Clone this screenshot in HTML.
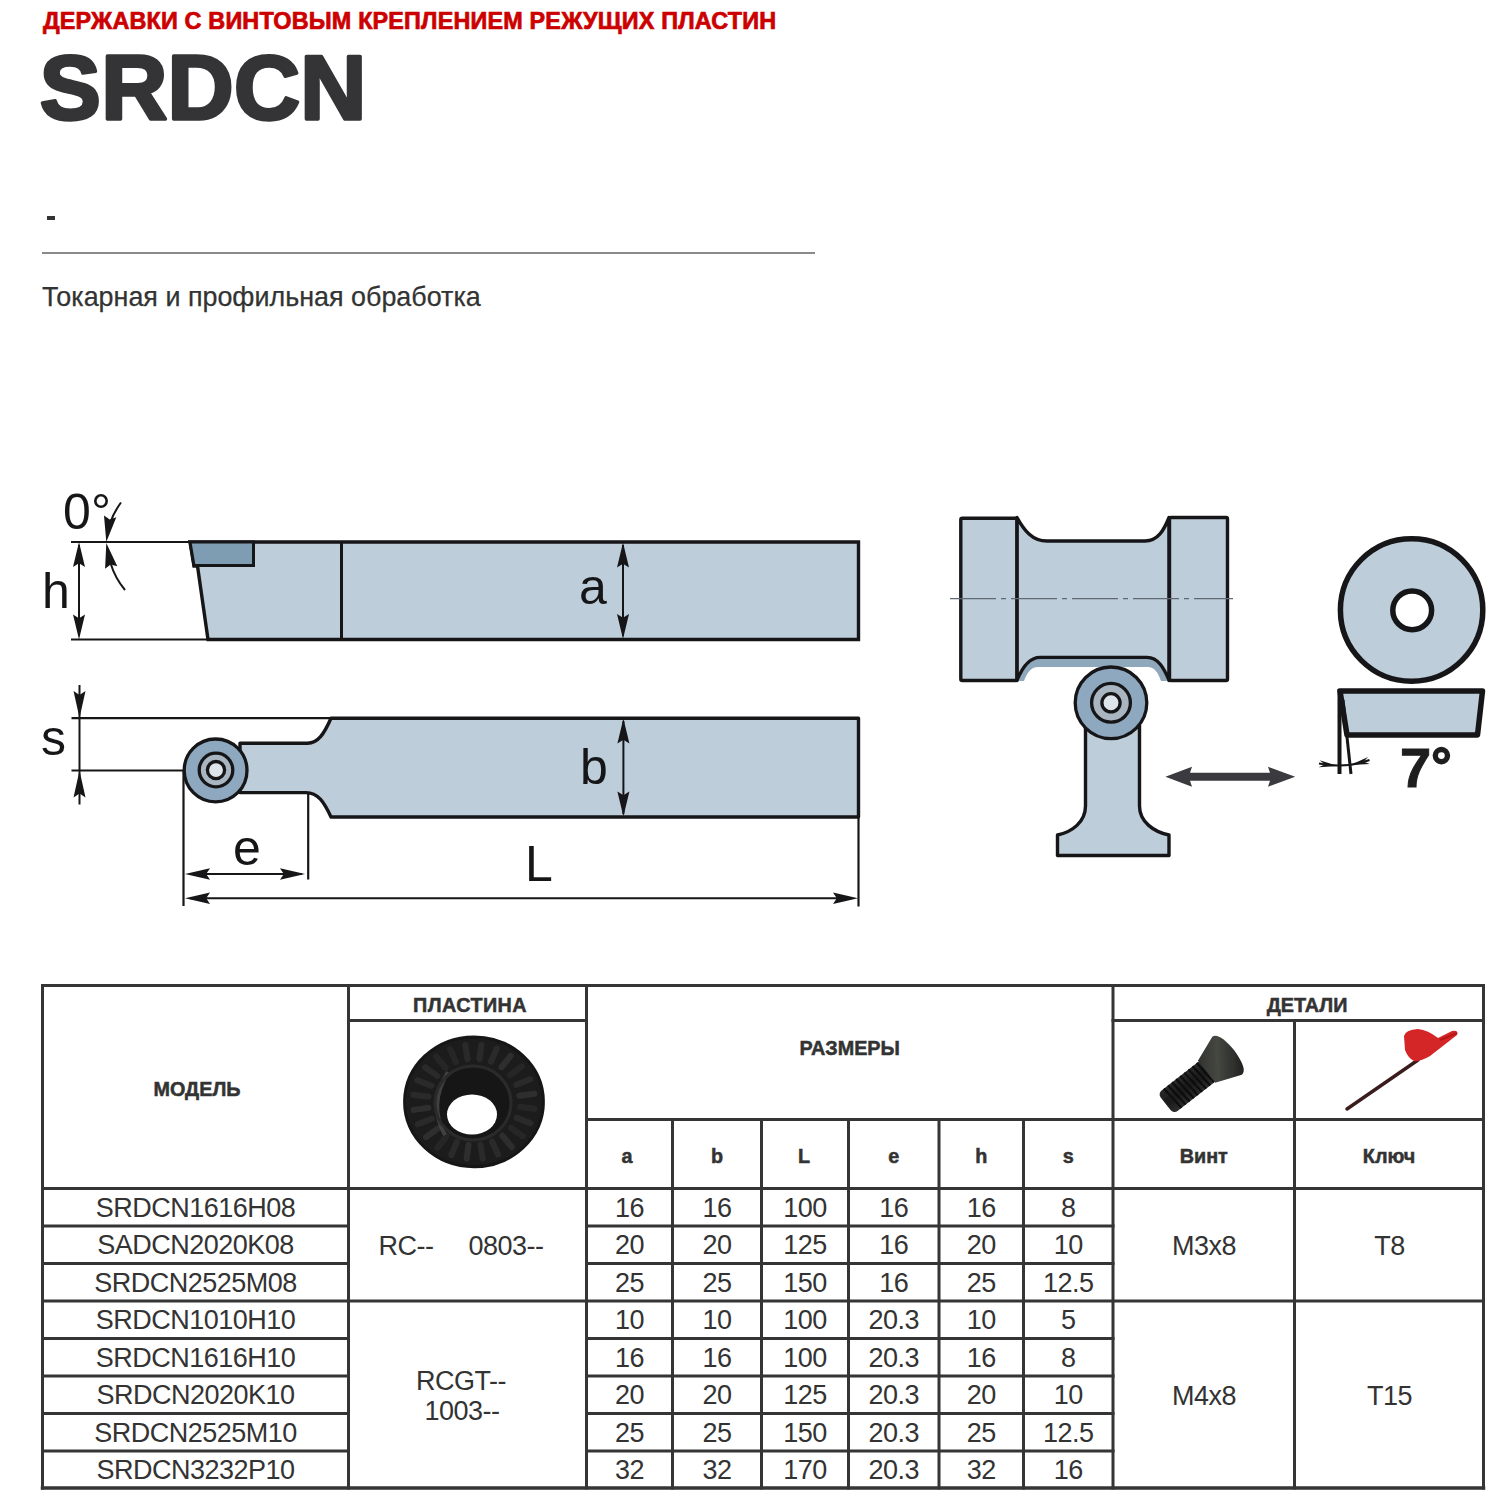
<!DOCTYPE html>
<html><head><meta charset="utf-8">
<style>
html,body{margin:0;padding:0;background:#fff;width:1500px;height:1500px;overflow:hidden}
svg{display:block}
text{font-family:"Liberation Sans",sans-serif}
</style></head><body>
<svg width="1500" height="1500" viewBox="0 0 1500 1500">
<text x="43" y="28.5" font-size="23.4" font-weight="bold" letter-spacing="0.17" fill="#cc0000" stroke="#cc0000" stroke-width="0.7">ДЕРЖАВКИ С ВИНТОВЫМ КРЕПЛЕНИЕМ РЕЖУЩИХ ПЛАСТИН</text>
<text x="39.8" y="119.3" font-size="91.5" font-weight="bold" letter-spacing="0.3" fill="#343436" stroke="#343436" stroke-width="3.4" stroke-linejoin="round">SRDCN</text>
<rect x="47" y="216" width="8" height="4" fill="#333"/>
<rect x="42" y="252" width="773" height="2" fill="#8a8a8a"/>
<text x="42" y="305.5" font-size="26.9" fill="#333" stroke="#333" stroke-width="0.25">Токарная и профильная обработка</text>
<g stroke-linecap="square">
<line x1="42.5" y1="985.5" x2="1483.5" y2="985.5" stroke="#353535" stroke-width="3"/>
<line x1="42.5" y1="1488" x2="1483.5" y2="1488" stroke="#353535" stroke-width="3.5"/>
<line x1="42.5" y1="985.5" x2="42.5" y2="1488" stroke="#353535" stroke-width="3"/>
<line x1="1483.5" y1="985.5" x2="1483.5" y2="1488" stroke="#353535" stroke-width="3"/>
<line x1="348.5" y1="985.5" x2="348.5" y2="1488" stroke="#353535" stroke-width="3"/>
<line x1="586.5" y1="985.5" x2="586.5" y2="1488" stroke="#353535" stroke-width="3"/>
<line x1="1113" y1="985.5" x2="1113" y2="1488" stroke="#353535" stroke-width="3"/>
<line x1="348.5" y1="1020.5" x2="586.5" y2="1020.5" stroke="#353535" stroke-width="3"/>
<line x1="1113" y1="1020.5" x2="1483.5" y2="1020.5" stroke="#353535" stroke-width="3"/>
<line x1="586.5" y1="1119.5" x2="1483.5" y2="1119.5" stroke="#353535" stroke-width="3"/>
<line x1="672.5" y1="1119.5" x2="672.5" y2="1488" stroke="#353535" stroke-width="3"/>
<line x1="761.5" y1="1119.5" x2="761.5" y2="1488" stroke="#353535" stroke-width="3"/>
<line x1="848.5" y1="1119.5" x2="848.5" y2="1488" stroke="#353535" stroke-width="3"/>
<line x1="939" y1="1119.5" x2="939" y2="1488" stroke="#353535" stroke-width="3"/>
<line x1="1023.5" y1="1119.5" x2="1023.5" y2="1488" stroke="#353535" stroke-width="3"/>
<line x1="1294.5" y1="1020.5" x2="1294.5" y2="1488" stroke="#353535" stroke-width="3"/>
<line x1="42.5" y1="1188.5" x2="1483.5" y2="1188.5" stroke="#353535" stroke-width="3"/>
<line x1="42.5" y1="1226" x2="348.5" y2="1226" stroke="#353535" stroke-width="3"/>
<line x1="586.5" y1="1226" x2="1113" y2="1226" stroke="#353535" stroke-width="3"/>
<line x1="42.5" y1="1263.5" x2="348.5" y2="1263.5" stroke="#353535" stroke-width="3"/>
<line x1="586.5" y1="1263.5" x2="1113" y2="1263.5" stroke="#353535" stroke-width="3"/>
<line x1="42.5" y1="1301" x2="1483.5" y2="1301" stroke="#353535" stroke-width="3"/>
<line x1="42.5" y1="1338.5" x2="348.5" y2="1338.5" stroke="#353535" stroke-width="3"/>
<line x1="586.5" y1="1338.5" x2="1113" y2="1338.5" stroke="#353535" stroke-width="3"/>
<line x1="42.5" y1="1376" x2="348.5" y2="1376" stroke="#353535" stroke-width="3"/>
<line x1="586.5" y1="1376" x2="1113" y2="1376" stroke="#353535" stroke-width="3"/>
<line x1="42.5" y1="1413.5" x2="348.5" y2="1413.5" stroke="#353535" stroke-width="3"/>
<line x1="586.5" y1="1413.5" x2="1113" y2="1413.5" stroke="#353535" stroke-width="3"/>
<line x1="42.5" y1="1451" x2="348.5" y2="1451" stroke="#353535" stroke-width="3"/>
<line x1="586.5" y1="1451" x2="1113" y2="1451" stroke="#353535" stroke-width="3"/>
</g>
<text x="197.0" y="1096" font-size="19.8" font-weight="bold" stroke="#333333" stroke-width="0.5" fill="#333333" text-anchor="middle">МОДЕЛЬ</text>
<text x="470.0" y="1012" font-size="19.8" font-weight="bold" stroke="#333333" stroke-width="0.5" fill="#333333" text-anchor="middle" letter-spacing="0.4">ПЛАСТИНА</text>
<text x="849.75" y="1055" font-size="19.8" font-weight="bold" stroke="#333333" stroke-width="0.5" fill="#333333" text-anchor="middle">РАЗМЕРЫ</text>
<text x="1307" y="1012" font-size="19.8" font-weight="bold" stroke="#333333" stroke-width="0.5" fill="#333333" text-anchor="middle">ДЕТАЛИ</text>
<text x="627.0" y="1163" font-size="19.8" font-weight="bold" stroke="#333333" stroke-width="0.5" fill="#333333" text-anchor="middle">a</text>
<text x="717.0" y="1163" font-size="19.8" font-weight="bold" stroke="#333333" stroke-width="0.5" fill="#333333" text-anchor="middle">b</text>
<text x="804.0" y="1163" font-size="19.8" font-weight="bold" stroke="#333333" stroke-width="0.5" fill="#333333" text-anchor="middle">L</text>
<text x="893.75" y="1163" font-size="19.8" font-weight="bold" stroke="#333333" stroke-width="0.5" fill="#333333" text-anchor="middle">e</text>
<text x="981.25" y="1163" font-size="19.8" font-weight="bold" stroke="#333333" stroke-width="0.5" fill="#333333" text-anchor="middle">h</text>
<text x="1068.25" y="1163" font-size="19.8" font-weight="bold" stroke="#333333" stroke-width="0.5" fill="#333333" text-anchor="middle">s</text>
<text x="1203.75" y="1162.5" font-size="19.8" font-weight="bold" stroke="#333333" stroke-width="0.5" fill="#333333" text-anchor="middle">Винт</text>
<text x="1389.0" y="1162.5" font-size="19.8" font-weight="bold" stroke="#333333" stroke-width="0.5" fill="#333333" text-anchor="middle">Ключ</text>
<text x="195.5" y="1216.85" font-size="27" letter-spacing="-0.5" fill="#333333" text-anchor="middle">SRDCN1616H08</text>
<text x="629.5" y="1216.85" font-size="27" letter-spacing="-0.5" fill="#333333" text-anchor="middle">16</text>
<text x="717.0" y="1216.85" font-size="27" letter-spacing="-0.5" fill="#333333" text-anchor="middle">16</text>
<text x="805.0" y="1216.85" font-size="27" letter-spacing="-0.5" fill="#333333" text-anchor="middle">100</text>
<text x="893.75" y="1216.85" font-size="27" letter-spacing="-0.5" fill="#333333" text-anchor="middle">16</text>
<text x="981.25" y="1216.85" font-size="27" letter-spacing="-0.5" fill="#333333" text-anchor="middle">16</text>
<text x="1068.25" y="1216.85" font-size="27" letter-spacing="-0.5" fill="#333333" text-anchor="middle">8</text>
<text x="195.5" y="1254.35" font-size="27" letter-spacing="-0.5" fill="#333333" text-anchor="middle">SADCN2020K08</text>
<text x="629.5" y="1254.35" font-size="27" letter-spacing="-0.5" fill="#333333" text-anchor="middle">20</text>
<text x="717.0" y="1254.35" font-size="27" letter-spacing="-0.5" fill="#333333" text-anchor="middle">20</text>
<text x="805.0" y="1254.35" font-size="27" letter-spacing="-0.5" fill="#333333" text-anchor="middle">125</text>
<text x="893.75" y="1254.35" font-size="27" letter-spacing="-0.5" fill="#333333" text-anchor="middle">16</text>
<text x="981.25" y="1254.35" font-size="27" letter-spacing="-0.5" fill="#333333" text-anchor="middle">20</text>
<text x="1068.25" y="1254.35" font-size="27" letter-spacing="-0.5" fill="#333333" text-anchor="middle">10</text>
<text x="195.5" y="1291.85" font-size="27" letter-spacing="-0.5" fill="#333333" text-anchor="middle">SRDCN2525M08</text>
<text x="629.5" y="1291.85" font-size="27" letter-spacing="-0.5" fill="#333333" text-anchor="middle">25</text>
<text x="717.0" y="1291.85" font-size="27" letter-spacing="-0.5" fill="#333333" text-anchor="middle">25</text>
<text x="805.0" y="1291.85" font-size="27" letter-spacing="-0.5" fill="#333333" text-anchor="middle">150</text>
<text x="893.75" y="1291.85" font-size="27" letter-spacing="-0.5" fill="#333333" text-anchor="middle">16</text>
<text x="981.25" y="1291.85" font-size="27" letter-spacing="-0.5" fill="#333333" text-anchor="middle">25</text>
<text x="1068.25" y="1291.85" font-size="27" letter-spacing="-0.5" fill="#333333" text-anchor="middle">12.5</text>
<text x="195.5" y="1329.35" font-size="27" letter-spacing="-0.5" fill="#333333" text-anchor="middle">SRDCN1010H10</text>
<text x="629.5" y="1329.35" font-size="27" letter-spacing="-0.5" fill="#333333" text-anchor="middle">10</text>
<text x="717.0" y="1329.35" font-size="27" letter-spacing="-0.5" fill="#333333" text-anchor="middle">10</text>
<text x="805.0" y="1329.35" font-size="27" letter-spacing="-0.5" fill="#333333" text-anchor="middle">100</text>
<text x="893.75" y="1329.35" font-size="27" letter-spacing="-0.5" fill="#333333" text-anchor="middle">20.3</text>
<text x="981.25" y="1329.35" font-size="27" letter-spacing="-0.5" fill="#333333" text-anchor="middle">10</text>
<text x="1068.25" y="1329.35" font-size="27" letter-spacing="-0.5" fill="#333333" text-anchor="middle">5</text>
<text x="195.5" y="1366.85" font-size="27" letter-spacing="-0.5" fill="#333333" text-anchor="middle">SRDCN1616H10</text>
<text x="629.5" y="1366.85" font-size="27" letter-spacing="-0.5" fill="#333333" text-anchor="middle">16</text>
<text x="717.0" y="1366.85" font-size="27" letter-spacing="-0.5" fill="#333333" text-anchor="middle">16</text>
<text x="805.0" y="1366.85" font-size="27" letter-spacing="-0.5" fill="#333333" text-anchor="middle">100</text>
<text x="893.75" y="1366.85" font-size="27" letter-spacing="-0.5" fill="#333333" text-anchor="middle">20.3</text>
<text x="981.25" y="1366.85" font-size="27" letter-spacing="-0.5" fill="#333333" text-anchor="middle">16</text>
<text x="1068.25" y="1366.85" font-size="27" letter-spacing="-0.5" fill="#333333" text-anchor="middle">8</text>
<text x="195.5" y="1404.35" font-size="27" letter-spacing="-0.5" fill="#333333" text-anchor="middle">SRDCN2020K10</text>
<text x="629.5" y="1404.35" font-size="27" letter-spacing="-0.5" fill="#333333" text-anchor="middle">20</text>
<text x="717.0" y="1404.35" font-size="27" letter-spacing="-0.5" fill="#333333" text-anchor="middle">20</text>
<text x="805.0" y="1404.35" font-size="27" letter-spacing="-0.5" fill="#333333" text-anchor="middle">125</text>
<text x="893.75" y="1404.35" font-size="27" letter-spacing="-0.5" fill="#333333" text-anchor="middle">20.3</text>
<text x="981.25" y="1404.35" font-size="27" letter-spacing="-0.5" fill="#333333" text-anchor="middle">20</text>
<text x="1068.25" y="1404.35" font-size="27" letter-spacing="-0.5" fill="#333333" text-anchor="middle">10</text>
<text x="195.5" y="1441.85" font-size="27" letter-spacing="-0.5" fill="#333333" text-anchor="middle">SRDCN2525M10</text>
<text x="629.5" y="1441.85" font-size="27" letter-spacing="-0.5" fill="#333333" text-anchor="middle">25</text>
<text x="717.0" y="1441.85" font-size="27" letter-spacing="-0.5" fill="#333333" text-anchor="middle">25</text>
<text x="805.0" y="1441.85" font-size="27" letter-spacing="-0.5" fill="#333333" text-anchor="middle">150</text>
<text x="893.75" y="1441.85" font-size="27" letter-spacing="-0.5" fill="#333333" text-anchor="middle">20.3</text>
<text x="981.25" y="1441.85" font-size="27" letter-spacing="-0.5" fill="#333333" text-anchor="middle">25</text>
<text x="1068.25" y="1441.85" font-size="27" letter-spacing="-0.5" fill="#333333" text-anchor="middle">12.5</text>
<text x="195.5" y="1479.1" font-size="27" letter-spacing="-0.5" fill="#333333" text-anchor="middle">SRDCN3232P10</text>
<text x="629.5" y="1479.1" font-size="27" letter-spacing="-0.5" fill="#333333" text-anchor="middle">32</text>
<text x="717.0" y="1479.1" font-size="27" letter-spacing="-0.5" fill="#333333" text-anchor="middle">32</text>
<text x="805.0" y="1479.1" font-size="27" letter-spacing="-0.5" fill="#333333" text-anchor="middle">170</text>
<text x="893.75" y="1479.1" font-size="27" letter-spacing="-0.5" fill="#333333" text-anchor="middle">20.3</text>
<text x="981.25" y="1479.1" font-size="27" letter-spacing="-0.5" fill="#333333" text-anchor="middle">32</text>
<text x="1068.25" y="1479.1" font-size="27" letter-spacing="-0.5" fill="#333333" text-anchor="middle">16</text>
<text x="406" y="1255" font-size="27" letter-spacing="-0.5" fill="#333333" text-anchor="middle">RC--</text>
<text x="506" y="1255" font-size="27" letter-spacing="-0.5" fill="#333333" text-anchor="middle">0803--</text>
<text x="461" y="1390" font-size="27" letter-spacing="-0.5" fill="#333333" text-anchor="middle">RCGT--</text>
<text x="462" y="1420" font-size="27" letter-spacing="-0.5" fill="#333333" text-anchor="middle">1003--</text>
<text x="1204" y="1255" font-size="27" letter-spacing="-0.5" fill="#333333" text-anchor="middle">M3x8</text>
<text x="1389.5" y="1255" font-size="27" letter-spacing="-0.5" fill="#333333" text-anchor="middle">T8</text>
<text x="1204" y="1404.5" font-size="27" letter-spacing="-0.5" fill="#333333" text-anchor="middle">M4x8</text>
<text x="1389.5" y="1404.5" font-size="27" letter-spacing="-0.5" fill="#333333" text-anchor="middle">T15</text>
<defs>
<radialGradient id="insG" cx="0.45" cy="0.4" r="0.6">
  <stop offset="0" stop-color="#2a2a2a"/>
  <stop offset="0.7" stop-color="#1e1e1e"/>
  <stop offset="1" stop-color="#121212"/>
</radialGradient>
<linearGradient id="scrHead" x1="0" y1="0" x2="1" y2="1">
  <stop offset="0" stop-color="#2c2c2b"/>
  <stop offset="0.45" stop-color="#454741"/>
  <stop offset="1" stop-color="#1a1a1a"/>
</linearGradient>
<linearGradient id="scrBody" x1="0" y1="0" x2="0" y2="1">
  <stop offset="0" stop-color="#2a2a2a"/>
  <stop offset="0.5" stop-color="#1a1a1a"/>
  <stop offset="1" stop-color="#2c2c2c"/>
</linearGradient>
<filter id="soft" x="-10%" y="-10%" width="120%" height="120%"><feGaussianBlur stdDeviation="0.7"/></filter>
</defs>
<g filter="url(#soft)">
<ellipse cx="474" cy="1101.8" rx="69.4" ry="64.9" fill="#1d1d1d"/>
<line x1="519.7" y1="1107.0" x2="534.6" y2="1108.7" stroke="#333333" stroke-width="6" stroke-linecap="round" opacity="0.5"/>
<line x1="516.7" y1="1117.9" x2="530.6" y2="1123.2" stroke="#3a3a3a" stroke-width="6" stroke-linecap="round" opacity="0.5"/>
<line x1="510.8" y1="1127.7" x2="522.8" y2="1136.2" stroke="#333333" stroke-width="6" stroke-linecap="round" opacity="0.5"/>
<line x1="502.4" y1="1135.8" x2="511.7" y2="1146.9" stroke="#424242" stroke-width="6" stroke-linecap="round" opacity="0.5"/>
<line x1="492.1" y1="1141.6" x2="498.0" y2="1154.5" stroke="#3a3a3a" stroke-width="6" stroke-linecap="round" opacity="0.5"/>
<line x1="480.5" y1="1144.6" x2="482.6" y2="1158.6" stroke="#3a3a3a" stroke-width="6" stroke-linecap="round" opacity="0.5"/>
<line x1="468.5" y1="1144.7" x2="466.7" y2="1158.7" stroke="#424242" stroke-width="6" stroke-linecap="round" opacity="0.5"/>
<line x1="456.9" y1="1141.9" x2="451.3" y2="1155.0" stroke="#3a3a3a" stroke-width="6" stroke-linecap="round" opacity="0.5"/>
<line x1="446.4" y1="1136.4" x2="437.4" y2="1147.7" stroke="#333333" stroke-width="6" stroke-linecap="round" opacity="0.5"/>
<line x1="437.8" y1="1128.5" x2="426.0" y2="1137.2" stroke="#424242" stroke-width="6" stroke-linecap="round" opacity="0.5"/>
<line x1="431.7" y1="1118.8" x2="417.9" y2="1124.3" stroke="#3a3a3a" stroke-width="6" stroke-linecap="round" opacity="0.5"/>
<line x1="428.5" y1="1107.9" x2="413.6" y2="1109.9" stroke="#424242" stroke-width="6" stroke-linecap="round" opacity="0.5"/>
<line x1="428.3" y1="1096.6" x2="413.4" y2="1094.9" stroke="#3a3a3a" stroke-width="6" stroke-linecap="round" opacity="0.5"/>
<line x1="431.3" y1="1085.7" x2="417.4" y2="1080.4" stroke="#3a3a3a" stroke-width="6" stroke-linecap="round" opacity="0.5"/>
<line x1="437.2" y1="1075.9" x2="425.2" y2="1067.4" stroke="#3a3a3a" stroke-width="6" stroke-linecap="round" opacity="0.5"/>
<line x1="445.6" y1="1067.8" x2="436.3" y2="1056.7" stroke="#333333" stroke-width="6" stroke-linecap="round" opacity="0.5"/>
<line x1="455.9" y1="1062.0" x2="450.0" y2="1049.1" stroke="#333333" stroke-width="6" stroke-linecap="round" opacity="0.5"/>
<line x1="467.5" y1="1059.0" x2="465.4" y2="1045.0" stroke="#3a3a3a" stroke-width="6" stroke-linecap="round" opacity="0.5"/>
<line x1="479.5" y1="1058.9" x2="481.3" y2="1044.9" stroke="#3a3a3a" stroke-width="6" stroke-linecap="round" opacity="0.5"/>
<line x1="491.1" y1="1061.7" x2="496.7" y2="1048.6" stroke="#3a3a3a" stroke-width="6" stroke-linecap="round" opacity="0.5"/>
<line x1="501.6" y1="1067.2" x2="510.6" y2="1055.9" stroke="#424242" stroke-width="6" stroke-linecap="round" opacity="0.5"/>
<line x1="510.2" y1="1075.1" x2="522.0" y2="1066.4" stroke="#333333" stroke-width="6" stroke-linecap="round" opacity="0.5"/>
<line x1="516.3" y1="1084.8" x2="530.1" y2="1079.3" stroke="#3a3a3a" stroke-width="6" stroke-linecap="round" opacity="0.5"/>
<line x1="519.5" y1="1095.7" x2="534.4" y2="1093.7" stroke="#424242" stroke-width="6" stroke-linecap="round" opacity="0.5"/>
<ellipse cx="474" cy="1101.8" rx="69.4" ry="64.9" fill="none" stroke="#151515" stroke-width="3"/>
<ellipse cx="473" cy="1103" rx="38" ry="37" fill="#181818"/>
<path d="M445,1135 Q428,1105 448,1072" fill="none" stroke="#4a4a4a" stroke-width="4" opacity="0.8"/>
<ellipse cx="473" cy="1103" rx="38" ry="37" fill="none" stroke="#2c2c2c" stroke-width="3"/>
<ellipse cx="472" cy="1114.5" rx="25" ry="20" fill="#ffffff"/>
</g>
<g filter="url(#soft)">
<g transform="translate(1205,1073) rotate(-38)">
<rect x="-50" y="-13" width="56" height="26" rx="5" fill="url(#scrBody)"/>
<line x1="-42.0" y1="-13" x2="-40.0" y2="13" stroke="#0c0c0c" stroke-width="2"/>
<line x1="-36.8" y1="-13" x2="-34.8" y2="13" stroke="#0c0c0c" stroke-width="2"/>
<line x1="-31.6" y1="-13" x2="-29.6" y2="13" stroke="#0c0c0c" stroke-width="2"/>
<line x1="-26.4" y1="-13" x2="-24.4" y2="13" stroke="#0c0c0c" stroke-width="2"/>
<line x1="-21.2" y1="-13" x2="-19.2" y2="13" stroke="#0c0c0c" stroke-width="2"/>
<line x1="-16.0" y1="-13" x2="-14.0" y2="13" stroke="#0c0c0c" stroke-width="2"/>
<line x1="-10.8" y1="-13" x2="-8.8" y2="13" stroke="#0c0c0c" stroke-width="2"/>
<line x1="-5.6" y1="-13" x2="-3.6" y2="13" stroke="#0c0c0c" stroke-width="2"/>
<line x1="-0.4" y1="-13" x2="1.6" y2="13" stroke="#0c0c0c" stroke-width="2"/>
<path d="M2,-14 L28,-24 Q36,-24 37,0 Q36,24 28,24 L2,14 Z" fill="url(#scrHead)"/>
</g>
</g>
<g filter="url(#soft)">
<path d="M1347,1109 L1418,1060" stroke="#3a1c1e" stroke-width="3.4" stroke-linecap="round"/>
<path d="M1404,1036 Q1405,1030 1418,1029 Q1428,1030 1438,1038 L1452,1031 Q1459,1030 1457,1035 L1430,1056 Q1420,1062 1414,1061 Q1408,1058 1405,1050 Z" fill="#d42525"/>
<path d="M1440,1040 L1457,1033" stroke="#b81818" stroke-width="2"/>
</g>
<line x1="71" y1="542" x2="190" y2="542" stroke="#161618" stroke-width="2.2"/>
<line x1="71" y1="639.5" x2="208" y2="639.5" stroke="#161618" stroke-width="2.2"/>
<polygon points="190,542 858.5,542 858.5,639.5 208,639.5 197.5,566 194,566" fill="#bdcdd9" stroke="#161618" stroke-width="3.4" stroke-linejoin="miter"/>
<polygon points="190,542 253.5,542 253.5,565.5 194,565.5" fill="#7e9db3" stroke="#161618" stroke-width="3"/>
<line x1="341.5" y1="542" x2="341.5" y2="639.5" stroke="#161618" stroke-width="3"/>
<line x1="79" y1="545" x2="79" y2="636" stroke="#161618" stroke-width="2"/>
<polygon points="79.0,542.0 85.0,567.0 79.0,563.2 73.0,567.0" fill="#161618"/>
<polygon points="79.0,639.5 73.0,614.5 79.0,618.2 85.0,614.5" fill="#161618"/>
<text x="42" y="607.8" font-size="50" fill="#161618" text-anchor="start">h</text>
<text x="63" y="528.6" font-size="50" fill="#161618" text-anchor="start">0</text>
<text x="91" y="528.6" font-size="50" fill="#161618" text-anchor="start">°</text>
<path d="M121,502.5 Q114,512 110.5,522" fill="none" stroke="#161618" stroke-width="2"/>
<polygon points="106.3,542.0 104.0,515.4 109.7,519.4 116.3,517.2" fill="#161618"/>
<path d="M110.5,563 Q115,578 125,590" fill="none" stroke="#161618" stroke-width="2"/>
<polygon points="106.3,543.0 117.3,566.3 110.6,564.6 105.1,568.7" fill="#161618"/>
<line x1="623" y1="545" x2="623" y2="636" stroke="#161618" stroke-width="2"/>
<polygon points="623.0,542.5 629.0,567.5 623.0,563.8 617.0,567.5" fill="#161618"/>
<polygon points="623.0,639.0 617.0,614.0 623.0,617.8 629.0,614.0" fill="#161618"/>
<text x="579" y="604.3" font-size="50" fill="#161618" text-anchor="start">a</text>
<line x1="71.5" y1="718.2" x2="331" y2="718.2" stroke="#161618" stroke-width="2.2"/>
<line x1="71.5" y1="770.5" x2="184" y2="770.5" stroke="#161618" stroke-width="2.2"/>
<line x1="79.5" y1="685" x2="79.5" y2="804.5" stroke="#161618" stroke-width="2"/>
<polygon points="79.5,718.0 73.5,691.0 79.5,695.0 85.5,691.0" fill="#161618"/>
<polygon points="79.5,770.5 85.5,797.5 79.5,793.5 73.5,797.5" fill="#161618"/>
<text x="41" y="755.3" font-size="50" fill="#161618" text-anchor="start">s</text>
<path d="M240,743.2 L307.5,743.2 C318,743.2 324,734 331,718.2 L858.5,718.2 L858.5,817 L331,817 C324,802 318,792.6 306,792.6 L240,792.6 Z" fill="#bdcdd9" stroke="#161618" stroke-width="3.4" stroke-linejoin="round"/>
<circle cx="215.6" cy="770.4" r="31.4" fill="#8ea8bf" stroke="#161618" stroke-width="3.3"/>
<circle cx="216" cy="770" r="16.8" fill="#a9b6c1" stroke="#161618" stroke-width="3.3"/>
<circle cx="216" cy="770.1" r="8.6" fill="#dde4ea" stroke="#161618" stroke-width="3.3"/>
<line x1="623.4" y1="721" x2="623.4" y2="814" stroke="#161618" stroke-width="2"/>
<polygon points="623.4,718.5 629.4,743.5 623.4,739.8 617.4,743.5" fill="#161618"/>
<polygon points="623.4,816.5 617.4,791.5 623.4,795.2 629.4,791.5" fill="#161618"/>
<text x="580" y="783.6" font-size="50" fill="#161618" text-anchor="start">b</text>
<line x1="183.5" y1="770.5" x2="183.5" y2="906" stroke="#161618" stroke-width="2.2"/>
<line x1="308.2" y1="792.6" x2="308.2" y2="879.5" stroke="#161618" stroke-width="2.2"/>
<line x1="858.5" y1="817" x2="858.5" y2="906.5" stroke="#161618" stroke-width="2.2"/>
<line x1="190" y1="874" x2="302" y2="874" stroke="#161618" stroke-width="2"/>
<polygon points="185.0,874.0 210.0,868.3 206.2,874.0 210.0,879.7" fill="#161618"/>
<polygon points="305.0,874.0 280.0,879.7 283.8,874.0 280.0,868.3" fill="#161618"/>
<text x="233" y="864.7" font-size="50" fill="#161618" text-anchor="start">e</text>
<line x1="190" y1="898.2" x2="852" y2="898.2" stroke="#161618" stroke-width="2"/>
<polygon points="185.0,898.2 210.0,892.5 206.2,898.2 210.0,903.9" fill="#161618"/>
<polygon points="858.0,898.2 833.0,903.9 836.8,898.2 833.0,892.5" fill="#161618"/>
<text x="525" y="881.1" font-size="50" fill="#161618" text-anchor="start">L</text>
<path d="M1019,681 C1022,668 1029,657.4 1040,657.4 L1147,657.4 C1158,657.4 1164,668 1167,681 L1161,681 C1158,672 1154,667 1148,667 L1038,667 C1031,667 1027,673 1024,681 Z" fill="#8fa8bc"/>
<path d="M1017,517.5 C1024,530 1032,541 1047,541 L1145,541 C1158,541 1164,530 1169,517.5 L1169,680.5 C1164,668 1158,657.4 1147,657.4 L1040,657.4 C1029,657.4 1022,668 1017,680.5 Z" fill="#bdcdd9" stroke="#161618" stroke-width="3.4" stroke-linejoin="round"/>
<rect x="960.8" y="518.2" width="56" height="162.3" fill="#bdcdd9" stroke="#161618" stroke-width="3.4" rx="1.5"/>
<rect x="1169.5" y="517.5" width="58" height="163" fill="#bdcdd9" stroke="#161618" stroke-width="3.4" rx="1.5"/>
<line x1="950" y1="598.7" x2="1233" y2="598.7" stroke="#5f6a74" stroke-width="1.3" stroke-dasharray="46 5 5 5"/>
<path d="M1085.5,725 L1085.5,806 C1085.5,822 1072,832 1057.5,835 L1057.5,855.5 L1169,855.5 L1169,835 C1154,832 1139.5,822 1139.5,806 L1139.5,725 Z" fill="#bdcdd9" stroke="#161618" stroke-width="3.4" stroke-linejoin="round"/>
<circle cx="1111" cy="702.8" r="35.8" fill="#8ea8bf" stroke="#161618" stroke-width="3.3"/>
<circle cx="1111" cy="702.8" r="19.4" fill="#a9b6c1" stroke="#161618" stroke-width="3.3"/>
<circle cx="1111" cy="702.8" r="9.1" fill="#dde4ea" stroke="#161618" stroke-width="3.3"/>
<polygon points="1165.4,776.8 1192,766.8 1190,772.8 1270,772.8 1268,766.8 1295.2,776.8 1268,786.8 1270,780.8 1190,780.8 1192,786.8" fill="#3b3b3f"/>
<circle cx="1411.6" cy="610" r="71.2" fill="#bdcdd9" stroke="#161618" stroke-width="5.5"/>
<circle cx="1412.2" cy="610.3" r="19.4" fill="#fff" stroke="#161618" stroke-width="5.5"/>
<polygon points="1340,691 1482.5,691 1477.5,735 1347,735" fill="#bdcdd9" stroke="#161618" stroke-width="5.5" stroke-linejoin="round"/>
<line x1="1339.5" y1="689" x2="1339.5" y2="774" stroke="#161618" stroke-width="4"/>
<line x1="1343" y1="700" x2="1351" y2="774" stroke="#161618" stroke-width="3"/>
<path d="M1319,763.5 Q1345,769 1369.5,760" fill="none" stroke="#161618" stroke-width="2"/>
<polygon points="1338.0,766.0 1318.7,767.3 1324.8,764.4 1319.6,760.2" fill="#161618"/>
<polygon points="1350.5,765.0 1368.1,756.9 1363.4,761.8 1369.8,763.9" fill="#161618"/>
<text x="1400" y="787" font-size="56" font-weight="bold" fill="#1e1e1e" stroke="#1e1e1e" stroke-width="1">7</text>
<circle cx="1441.4" cy="755.6" r="6.1" fill="none" stroke="#1e1e1e" stroke-width="5.4"/>
</svg>
</body></html>
